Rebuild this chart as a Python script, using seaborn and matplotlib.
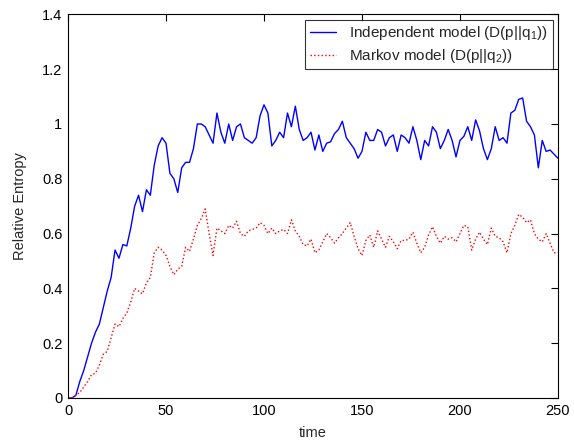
import numpy as np
import pandas as pd
import seaborn as sns
import matplotlib
matplotlib.use("Agg")
import matplotlib.pyplot as plt

# DATA (one value every 2 time steps)
TIME = list(range(0, 251, 2))

INDEPENDENT = [
    0.00, 0.00, 0.01, 0.06, 0.10, 0.15, 0.20, 0.24, 0.27, 0.33,
    0.39, 0.44, 0.54, 0.51, 0.56, 0.555, 0.62, 0.70, 0.74, 0.68,
    0.76, 0.74, 0.85, 0.92, 0.95, 0.93, 0.82, 0.80, 0.75, 0.84,
    0.86, 0.86, 0.91, 1.00, 1.00, 0.99, 0.96, 0.93, 1.04, 0.97,
    0.93, 1.00, 0.94, 0.99, 1.00, 0.95, 0.94, 0.93, 0.95, 1.03,
    1.07, 1.04, 0.92, 0.94, 0.97, 0.95, 1.04, 0.99, 1.065, 0.98,
    0.94, 0.95, 0.97, 0.905, 0.96, 0.90, 0.93, 0.935, 0.965, 0.98,
    1.01, 0.95, 0.93, 0.91, 0.875, 0.90, 0.97, 0.94, 0.94, 0.98,
    0.97, 0.92, 0.95, 0.96, 0.90, 0.96, 0.95, 0.93, 0.99, 0.94,
    0.87, 0.94, 0.92, 0.99, 0.97, 0.91, 0.94, 0.98, 0.94, 0.88,
    0.94, 0.955, 0.99, 0.94, 1.015, 0.975, 0.91, 0.87, 0.91, 0.99,
    0.94, 0.95, 0.93, 1.04, 1.05, 1.09, 1.095, 1.01, 0.99, 0.96,
    0.84, 0.94, 0.90, 0.905, 0.89, 0.875,
]

MARKOV = [
    0.00, 0.00, 0.01, 0.02, 0.04, 0.06, 0.085, 0.09, 0.12, 0.16,
    0.17, 0.22, 0.27, 0.26, 0.29, 0.31, 0.35, 0.40, 0.39, 0.38,
    0.42, 0.44, 0.53, 0.55, 0.54, 0.52, 0.48, 0.45, 0.47, 0.48,
    0.55, 0.535, 0.58, 0.63, 0.655, 0.69, 0.60, 0.52, 0.62, 0.61,
    0.60, 0.63, 0.62, 0.645, 0.60, 0.59, 0.61, 0.615, 0.62, 0.64,
    0.63, 0.60, 0.62, 0.60, 0.61, 0.615, 0.60, 0.65, 0.61, 0.59,
    0.56, 0.555, 0.58, 0.53, 0.54, 0.57, 0.60, 0.585, 0.565, 0.585,
    0.60, 0.62, 0.64, 0.59, 0.545, 0.52, 0.575, 0.595, 0.55, 0.61,
    0.58, 0.55, 0.59, 0.57, 0.545, 0.575, 0.575, 0.58, 0.605, 0.565,
    0.53, 0.55, 0.595, 0.625, 0.59, 0.565, 0.59, 0.58, 0.585, 0.57,
    0.60, 0.63, 0.625, 0.54, 0.58, 0.605, 0.58, 0.56, 0.62, 0.59,
    0.585, 0.57, 0.53, 0.60, 0.63, 0.67, 0.66, 0.64, 0.65, 0.60,
    0.58, 0.57, 0.60, 0.565, 0.53, 0.53,
]

LABEL_INDEPENDENT = r"Independent model (D(p||q$_1$))"
LABEL_MARKOV = r"Markov model (D(p||q$_2$))"


def main():
    sns.set_style("white")
    plt.rcParams["font.family"] = ["Liberation Sans", "DejaVu Sans"]
    plt.rcParams["mathtext.fontset"] = "custom"
    plt.rcParams["mathtext.rm"] = "Liberation Sans"
    plt.rcParams["mathtext.it"] = "Liberation Sans"

    df = pd.DataFrame({"time": TIME, "independent": INDEPENDENT, "markov": MARKOV})

    fig = plt.figure(figsize=(5.74, 4.43), dpi=100)
    ax = fig.add_axes([0.1185, 0.1016, 0.8535, 0.8659])

    sns.lineplot(data=df, x="time", y="independent", ax=ax, color=(0, 0, 1),
                 linewidth=1.0, label=LABEL_INDEPENDENT)
    sns.lineplot(data=df, x="time", y="markov", ax=ax, color=(1, 0, 0),
                 linewidth=1.0, linestyle=":", label=LABEL_MARKOV)

    ax.set_xlim(0, 250)
    ax.set_ylim(0, 1.4)
    ax.set_xticks([0, 50, 100, 150, 200, 250])
    ax.set_yticks(np.arange(0, 1.41, 0.2))
    ax.set_yticklabels(["0", "0.2", "0.4", "0.6", "0.8", "1", "1.2", "1.4"])
    ax.set_xlabel("time", fontsize=10.5, labelpad=6)
    ax.set_ylabel("Relative Entropy", fontsize=10.5, labelpad=11)

    ax.tick_params(direction="in", length=5, width=0.8, top=True, right=True,
                   labelsize=10.5, colors="black", pad=4)
    for spine in ax.spines.values():
        spine.set_visible(True)
        spine.set_color("black")
        spine.set_linewidth(0.8)

    leg = ax.legend(loc="upper right", fontsize=11, frameon=True, fancybox=False,
                    borderaxespad=0.35, handlelength=1.7, handletextpad=0.9,
                    borderpad=0.3, labelspacing=0.3)
    leg.get_frame().set_edgecolor("black")
    leg.get_frame().set_linewidth(0.8)

    fig.savefig("out.png", dpi=100)
    plt.close(fig)


if __name__ == "__main__":
    main()
